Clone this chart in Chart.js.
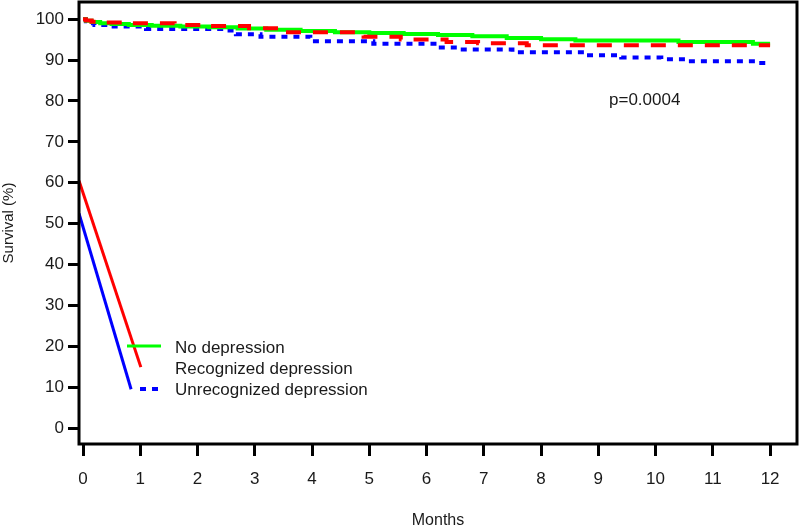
<!DOCTYPE html>
<html>
<head>
<meta charset="utf-8">
<script src="https://cdn.jsdelivr.net/npm/chart.js@4/dist/chart.umd.min.js"></script>
<style>
  html, body { margin: 0; padding: 0; background: #fff; }
  #wrap { width: 800px; height: 527px; }
</style>
</head>
<body>
<div id="wrap"><canvas id="km"></canvas></div>
<script>
// Kaplan-Meier survival, months vs survival (%)
const xTicks = [0, 1, 2, 3, 4, 5, 6, 7, 8, 9, 10, 11, 12];
const yTicks = [0, 10, 20, 30, 40, 50, 60, 70, 80, 90, 100];

const noDepTimes = [0, 0.05, 0.15, 0.3, 0.5, 0.8, 1.2, 1.7, 2.2, 2.7, 3.2, 3.8, 4.4, 5.0, 5.6, 6.2, 6.8, 7.4, 8.0, 8.6, 10.4, 11.7, 12.0];
const noDepSurv  = [100, 99.6, 99.3, 99.0, 98.8, 98.6, 98.4, 98.2, 98.0, 97.7, 97.4, 97.1, 96.8, 96.6, 96.4, 96.1, 95.8, 95.4, 95.1, 94.8, 94.4, 94.0, 94.0];

const recogTimes = [0, 0.05, 0.15, 0.4, 0.7, 1.6, 2.1, 2.9, 3.58, 4.75, 4.9, 5.55, 6.35, 6.9, 7.75, 12.0];
const recogSurv  = [100, 99.7, 99.4, 99.2, 99.0, 98.6, 98.3, 97.8, 96.8, 96.2, 95.7, 95.0, 94.4, 94.1, 93.6, 93.6];

const unrecTimes = [0, 0.05, 0.1, 0.2, 0.5, 1.1, 2.5, 2.67, 3.1, 3.97, 5.07, 6.2, 6.55, 7.5, 8.8, 9.4, 10.1, 10.55, 11.77, 12.0];
const unrecSurv  = [100, 99.5, 99.0, 98.6, 98.2, 97.6, 97.2, 96.3, 95.7, 94.6, 94.0, 93.1, 92.6, 91.9, 91.2, 90.6, 90.2, 89.7, 89.3, 89.3];

// stray slanted strokes in the lower left of the original figure
const redStrayX = [-0.07, 1.01];
const redStrayY = [60.5, 14.9];
const blueStrayX = [-0.07, 0.84];
const blueStrayY = [52.5, 9.5];

const legendLabels = ['No depression', 'Recognized depression', 'Unrecognized depression'];
const pValueText = 'p=0.0004';

const toPoints = (xs, ys) => xs.map((x, i) => ({ x: x, y: ys[i] }));

const FONT = '"Liberation Sans", Arial, sans-serif';
const TEXT = '#1a1a1a';

const frameAndNotes = {
  id: 'frameAndNotes',
  afterDraw(chart) {
    const ctx = chart.ctx;
    const a = chart.chartArea;
    ctx.save();
    // box round the plot
    ctx.strokeStyle = '#000';
    ctx.lineWidth = 3;
    ctx.strokeRect(a.left, a.top, a.right - a.left, a.bottom - a.top);

    // legend inside the plot
    const lx = a.left + 48;
    ctx.lineWidth = 3;
    ctx.strokeStyle = '#00ff00';
    ctx.beginPath();
    ctx.moveTo(lx, 346);
    ctx.lineTo(lx + 34, 346);
    ctx.stroke();
    ctx.strokeStyle = '#0000ff';
    ctx.lineWidth = 4;
    ctx.setLineDash([6, 6]);
    ctx.beginPath();
    ctx.moveTo(lx + 13, 389);
    ctx.lineTo(lx + 33, 389);
    ctx.stroke();
    ctx.setLineDash([]);

    ctx.fillStyle = TEXT;
    ctx.font = '17px ' + FONT;
    ctx.textAlign = 'left';
    ctx.textBaseline = 'middle';
    legendLabels.forEach((t, i) => ctx.fillText(t, 175, 348 + i * 21));

    ctx.fillText(pValueText, 609, 100);
    ctx.restore();
  }
};

new Chart(document.getElementById('km'), {
  type: 'line',
  data: {
    datasets: [
      {
        label: legendLabels[1],
        data: toPoints(recogTimes, recogSurv),
        borderColor: '#ff0000',
        borderWidth: 4,
        borderDash: [15, 12],
        stepped: true,
        order: 0
      },
      {
        label: legendLabels[0],
        data: toPoints(noDepTimes, noDepSurv),
        borderColor: '#00ff00',
        borderWidth: 4,
        stepped: true,
        order: 1
      },
      {
        label: legendLabels[2],
        data: toPoints(unrecTimes, unrecSurv),
        borderColor: '#0000ff',
        borderWidth: 4,
        borderDash: [6, 6],
        stepped: true,
        order: 2
      },
      {
        label: 'red stroke',
        data: toPoints(redStrayX, redStrayY),
        borderColor: '#ff0000',
        borderWidth: 3,
        order: 3
      },
      {
        label: 'blue stroke',
        data: toPoints(blueStrayX, blueStrayY),
        borderColor: '#0000ff',
        borderWidth: 3,
        order: 3
      }
    ]
  },
  options: {
    responsive: true,
    maintainAspectRatio: false,
    animation: false,
    layout: { padding: { top: 2, right: 3, left: 0, bottom: 0 } },
    elements: { point: { radius: 0 }, line: { tension: 0 } },
    plugins: {
      legend: { display: false },
      tooltip: { enabled: false }
    },
    scales: {
      x: {
        type: 'linear',
        min: -0.07,
        max: 12.47,
        afterBuildTicks: scale => { scale.ticks = xTicks.map(v => ({ value: v })); },
        afterFit: scale => {
          scale.height = 83;
          scale.paddingLeft = 0;
          scale.paddingRight = 0;
        },
        grid: { drawOnChartArea: false, color: '#000', lineWidth: 3, tickLength: 12 },
        border: { display: false },
        ticks: { color: TEXT, font: { family: FONT, size: 17 }, padding: 13, maxRotation: 0, autoSkip: false },
        title: { display: true, text: 'Months', color: TEXT, font: { family: FONT, size: 16 }, padding: { top: 0, bottom: -3 } }
      },
      y: {
        type: 'linear',
        min: -3.9,
        max: 104.2,
        afterBuildTicks: scale => { scale.ticks = yTicks.map(v => ({ value: v })); },
        afterFit: scale => {
          scale.width = 79;
          scale.paddingTop = 0;
          scale.paddingBottom = 0;
        },
        grid: { drawOnChartArea: false, color: '#000', lineWidth: 3, tickLength: 11 },
        border: { display: false },
        ticks: { color: TEXT, font: { family: FONT, size: 17 }, padding: 4, autoSkip: false },
        title: { display: true, text: 'Survival (%)', color: TEXT, font: { family: FONT, size: 15 }, padding: 0 }
      }
    }
  },
  plugins: [frameAndNotes]
});
</script>
</body>
</html>
